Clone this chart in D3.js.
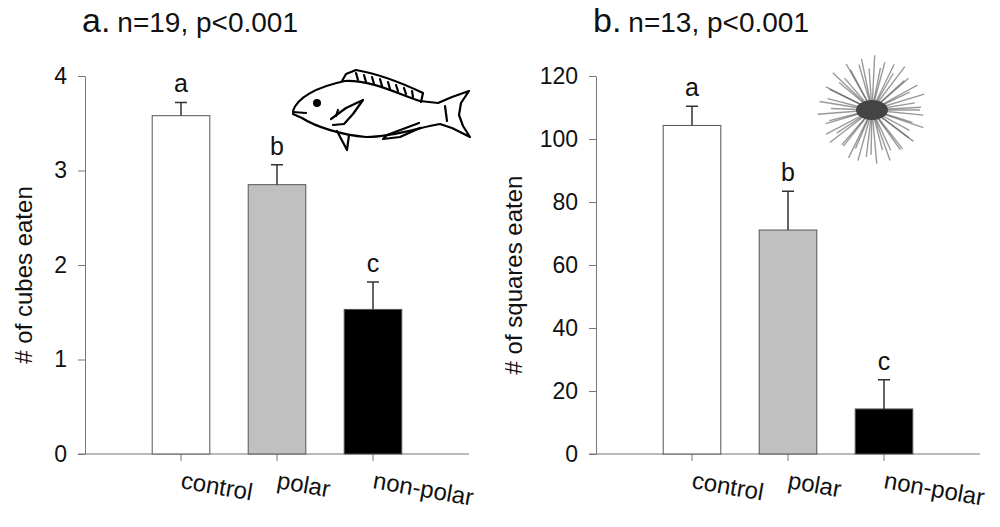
<!DOCTYPE html>
<html>
<head>
<meta charset="utf-8">
<script src="https://cdn.jsdelivr.net/npm/d3@7"></script>
<style>
  body { margin: 0; background: #fff; }
  svg { display: block; font-family: "Liberation Sans", Arial, sans-serif; }
</style>
</head>
<body>
<svg width="1000" height="527"></svg>
<script>
// data
const categories = ['control', 'polar', 'non-polar'];
const sigLetters = ['a', 'b', 'c'];
const cubesMean = [3.58, 2.85, 1.53];
const cubesSE = [0.14, 0.21, 0.29];
const cubesTicks = [0, 1, 2, 3, 4];
const squaresMean = [104.3, 71.1, 14.3];
const squaresSE = [6.1, 12.3, 9.3];
const squaresTicks = [0, 20, 40, 60, 80, 100, 120];
const fills = ['#ffffff', '#c0c0c0', '#000000'];

const svg = d3.select('svg');

function drawPanel(opt) {
  const g = svg.append('g').attr('transform', `translate(${opt.left},0)`);
  const y0 = 454, y1 = 76;

  const y = d3.scaleLinear().domain([0, opt.max]).range([y0, y1]);
  const x = d3.scaleBand()
    .domain(categories)
    .range([48, 336])
    .paddingInner(0.4)
    .paddingOuter(0.2);

  // y axis
  const ya = g.append('g')
    .call(d3.axisLeft(y).tickValues(opt.ticks).tickFormat(d3.format('d'))
      .tickSize(7).tickSizeOuter(0).tickPadding(11));
  ya.select('.domain').attr('stroke', '#777');
  ya.selectAll('.tick line').attr('stroke', '#777');
  ya.selectAll('.tick text').attr('font-size', 23).attr('fill', '#111').attr('font-family', 'inherit');

  // x axis
  g.append('line')
    .attr('x1', -7).attr('x2', 384)
    .attr('y1', y0).attr('y2', y0)
    .attr('stroke', '#777');
  g.selectAll('.xtick')
    .data(categories)
    .enter()
      .append('line')
      .attr('stroke', '#777')
      .attr('x1', d => x(d) + x.bandwidth() / 2)
      .attr('x2', d => x(d) + x.bandwidth() / 2)
      .attr('y1', y0)
      .attr('y2', y0 + 7);
  g.selectAll('.xlabel')
    .data(categories)
    .enter()
      .append('text')
      .attr('font-size', 24)
      .attr('fill', '#111')
      .attr('transform', d => `translate(${x(d) + x.bandwidth() / 2 - 1},${y0 + 34}) rotate(10)`)
      .text(d => d);

  // bars
  g.selectAll('.bar')
    .data(opt.mean)
    .enter()
      .append('rect')
      .attr('x', (d, i) => x(categories[i]))
      .attr('y', d => y(d))
      .attr('width', x.bandwidth())
      .attr('height', d => y0 - y(d))
      .attr('fill', (d, i) => fills[i])
      .attr('stroke', '#555')
      .attr('stroke-width', 1);

  // error bars (upper only)
  const cx = i => x(categories[i]) + x.bandwidth() / 2;
  g.selectAll('.err')
    .data(opt.mean)
    .enter()
      .append('path')
      .attr('fill', 'none')
      .attr('stroke', '#333')
      .attr('stroke-width', 1.5)
      .attr('d', (d, i) => {
        const top = y(d + opt.se[i]);
        return `M${cx(i)},${y(d)}V${top}M${cx(i) - 6},${top}H${cx(i) + 6}`;
      });

  // significance letters
  g.selectAll('.sig')
    .data(opt.mean)
    .enter()
      .append('text')
      .attr('x', (d, i) => cx(i))
      .attr('y', (d, i) => y(d + opt.se[i]) - 10)
      .attr('text-anchor', 'middle')
      .attr('font-size', 25)
      .attr('fill', '#111')
      .text((d, i) => sigLetters[i]);

  // y title
  g.append('text')
    .attr('transform', `translate(${opt.ylabX},${(y0 + y1) / 2 + 10}) rotate(-90)`)
    .attr('text-anchor', 'middle')
    .attr('font-size', 24)
    .attr('fill', '#111')
    .text(opt.ylabel);

  // panel title
  const t = g.append('text')
    .attr('x', -3)
    .attr('y', 32)
    .attr('fill', '#111');
  t.append('tspan').attr('font-size', 34).text(opt.letter + '.');
  t.append('tspan').attr('font-size', 28).attr('dx', 7).text(opt.title);

  return g;
}

const ga = drawPanel({
  left: 85, max: 4, ticks: cubesTicks, mean: cubesMean, se: cubesSE,
  ylabel: '# of cubes eaten', ylabX: -53, letter: 'a', title: 'n=19, p<0.001'
});
const gb = drawPanel({
  left: 596, max: 120, ticks: squaresTicks, mean: squaresMean, se: squaresSE,
  ylabel: '# of squares eaten', ylabX: -74, letter: 'b', title: 'n=13, p<0.001'
});

// fish sketch
const fish = ga.append('g')
  .attr('transform', 'translate(-85,0)')
  .attr('fill', 'none')
  .attr('stroke', '#000')
  .attr('stroke-width', 2.2)
  .attr('stroke-linejoin', 'round')
  .attr('stroke-linecap', 'round');
fish.append('path').attr('d',
  'M293,111 C297,98 316,87 345,81 C372,80 398,94 420,101 L438,103 L452,97 L469,91 ' +
  'L461,103 L459,115 L463,126 L470,137 L452,128 L440,124 ' +
  'C420,127 395,137 366,137 C342,135 316,127 302,118 L293,114');
fish.append('path').attr('d', 'M293,112 L306,113');
fish.append('path').attr('d', 'M342,81 L346,74 L356,70 C380,74 404,84 423,93 L421,102');
fish.append('path').attr('d',
  'M356,73 L358,80 M364,75 L366,82 M372,77 L374,84 M380,79 L382,86 M388,82 L390,89 M396,85 L398,91 M404,88 L406,94 M412,91 L413,97');
fish.append('path').attr('d', 'M331,119 L346,108 L363,100 L353,114 L344,124 L333,125');
fish.append('path').attr('d', 'M338,110 L336,116');
fish.append('path').attr('d', 'M419,123 L387,135 L383,139 L400,137 L420,128');
fish.append('path').attr('d', 'M337,131 L347,150 L349,135');
fish.append('path').attr('d', 'M445,106 L447,121');
fish.append('circle').attr('cx', 317).attr('cy', 103).attr('r', 4).attr('fill', '#000').attr('stroke', 'none');

// sea urchin sketch
const urchin = gb.append('g').attr('transform', 'translate(276,110)');
urchin.selectAll('line')
  .data(d3.range(0, 360, 7))
  .enter()
    .append('line')
    .attr('x1', 0)
    .attr('y1', 0)
    .attr('x2', d => Math.cos(d * Math.PI / 180) * (48 + 7 * Math.sin(d * 0.37)))
    .attr('y2', d => Math.sin(d * Math.PI / 180) * (48 + 7 * Math.cos(d * 0.53)))
    .attr('stroke', '#555')
    .attr('stroke-opacity', 0.6)
    .attr('stroke-width', 1.4);
urchin.append('ellipse')
  .attr('rx', 16).attr('ry', 10)
  .attr('fill', '#444');
</script>
</body>
</html>
